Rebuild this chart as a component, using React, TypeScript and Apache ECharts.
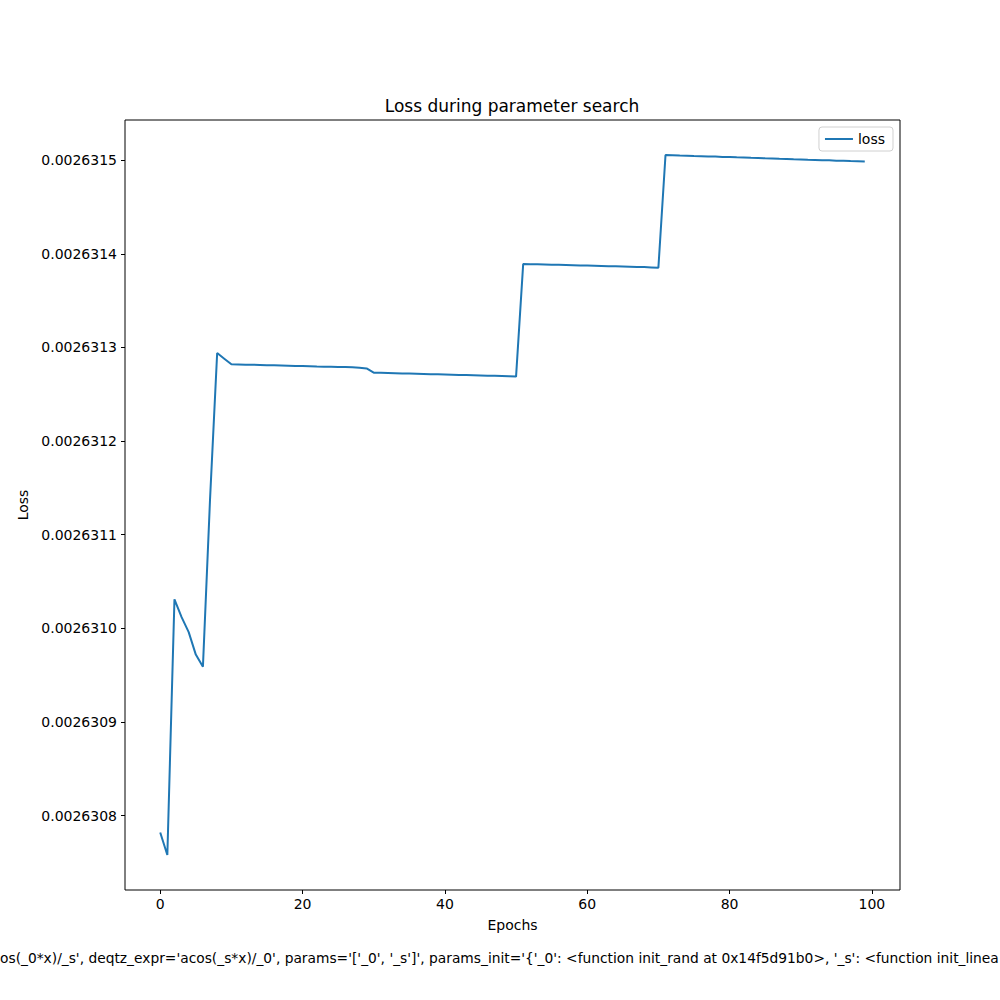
import React, { useEffect, useRef } from "react";
import * as echarts from "echarts";

const epochs: number[] = Array.from({ length: 100 }, (_, i) => i);

const loss: number[] = [
  0.002630782, 0.002630758, 0.002631031, 0.002631012, 0.002630996, 0.002630972, 0.002630959, 0.002631138, 0.002631294, 0.0026312880,
  0.002631282, 0.0026312818, 0.0026312816, 0.0026312815, 0.0026312813, 0.0026312811, 0.0026312809, 0.0026312807, 0.0026312805, 0.0026312803,
  0.0026312801, 0.0026312799, 0.0026312796, 0.0026312794, 0.0026312793, 0.0026312792, 0.0026312790, 0.0026312788, 0.0026312784, 0.0026312776,
  0.0026312731, 0.0026312729, 0.0026312727, 0.0026312725, 0.0026312723, 0.0026312721, 0.0026312719, 0.0026312717, 0.0026312715, 0.0026312713,
  0.0026312711, 0.0026312709, 0.0026312707, 0.0026312705, 0.0026312703, 0.0026312701, 0.0026312699, 0.0026312697, 0.0026312695, 0.0026312693,
  0.0026312689, 0.0026313890, 0.0026313889, 0.0026313888, 0.0026313886, 0.0026313884, 0.0026313882, 0.0026313880, 0.0026313878, 0.0026313876,
  0.0026313874, 0.0026313872, 0.0026313870, 0.0026313868, 0.0026313866, 0.0026313864, 0.0026313862, 0.0026313860, 0.0026313858, 0.0026313855,
  0.0026313852, 0.0026315055, 0.0026315053, 0.0026315050, 0.0026315048, 0.0026315045, 0.0026315043, 0.0026315040, 0.0026315038, 0.0026315035,
  0.0026315033, 0.0026315030, 0.0026315028, 0.0026315025, 0.0026315023, 0.0026315020, 0.0026315018, 0.0026315015, 0.0026315013, 0.0026315010,
  0.0026315008, 0.0026315005, 0.0026315003, 0.0026315000, 0.0026314998, 0.0026314995, 0.0026314993, 0.0026314990, 0.0026314988, 0.0026314985,
];

const xTicks: number[] = [0, 20, 40, 60, 80, 100];
const yTicks: number[] = [0.0026308, 0.0026309, 0.002631, 0.0026311, 0.0026312, 0.0026313, 0.0026314, 0.0026315];

const titleText = "Loss during parameter search";
const xLabel = "Epochs";
const yLabel = "Loss";
const seriesName = "loss";
const footerText =
  "os(_0*x)/_s', deqtz_expr='acos(_s*x)/_0', params='['_0', '_s']', params_init='{'_0': <function init_rand at 0x14f5d91b0>, '_s': <function init_linea";

const FONT = "DejaVu Sans";

export default function App() {
  const ref = useRef<HTMLDivElement>(null);
  useEffect(() => {
    if (!ref.current) return;
    const chart = echarts.init(ref.current, null, { renderer: "svg" });
    chart.setOption({
      animation: false,
      backgroundColor: "#ffffff",
      textStyle: { fontFamily: FONT },
      grid: {
        left: 125,
        right: 100,
        top: 120,
        bottom: 110,
        show: true,
        borderColor: "#000000",
        borderWidth: 1,
        backgroundColor: "transparent",
      },
      legend: {
        right: 107,
        top: 127,
        backgroundColor: "#ffffff",
        borderColor: "#d0d0d0",
        borderWidth: 1,
        borderRadius: 3,
        padding: [5, 8, 5, 6],
        itemWidth: 28,
        itemHeight: 2,
        itemGap: 8,
        icon: "rect",
        textStyle: { fontFamily: FONT, fontSize: 14, color: "#000" },
        data: [seriesName],
      },
      xAxis: {
        type: "value",
        min: -4.95,
        max: 103.95,
        name: xLabel,
        nameLocation: "middle",
        nameGap: 28,
        nameTextStyle: { fontFamily: FONT, fontSize: 14, color: "#000" },
        axisLine: { show: false, onZero: false },
        splitLine: { show: false },
        axisTick: {
          show: true,
          length: 4,
          lineStyle: { color: "#000" },
          customValues: xTicks,
        },
        axisLabel: {
          fontFamily: FONT,
          fontSize: 14,
          color: "#000",
          margin: 7,
          customValues: xTicks,
          formatter: (v: number) => String(Math.round(v)),
        },
      },
      yAxis: {
        type: "value",
        min: 0.0026307206,
        max: 0.0026315429,
        scale: true,
        name: yLabel,
        nameLocation: "middle",
        nameGap: 91,
        nameTextStyle: { fontFamily: FONT, fontSize: 14, color: "#000" },
        axisLine: { show: false, onZero: false },
        splitLine: { show: false },
        axisTick: {
          show: true,
          length: 4,
          lineStyle: { color: "#000" },
          customValues: yTicks,
        },
        axisLabel: {
          fontFamily: FONT,
          fontSize: 14,
          color: "#000",
          margin: 8,
          customValues: yTicks,
          formatter: (v: number) => v.toFixed(7),
        },
      },
      series: [
        {
          name: seriesName,
          type: "line",
          data: epochs.map((e, i) => [e, loss[i]]),
          showSymbol: false,
          symbol: "none",
          lineStyle: { color: "#1f77b4", width: 2 },
          itemStyle: { color: "#1f77b4" },
        },
      ],
      graphic: [
        {
          type: "text",
          x: 512,
          y: 106,
          style: {
            text: titleText,
            fontFamily: FONT,
            fontSize: 17,
            fill: "#000",
            textAlign: "center",
            textVerticalAlign: "middle",
          },
        },
        {
          type: "text",
          x: 0,
          y: 958,
          style: {
            text: footerText,
            fontFamily: FONT,
            fontSize: 13.8,
            fill: "#000",
            textAlign: "left",
            textVerticalAlign: "middle",
          },
        },
      ],
    });
    return () => chart.dispose();
  }, []);
  return (
    <div
      ref={ref}
      style={{ position: "fixed", left: 0, top: 0, width: 1000, height: 1000 }}
    />
  );
}
